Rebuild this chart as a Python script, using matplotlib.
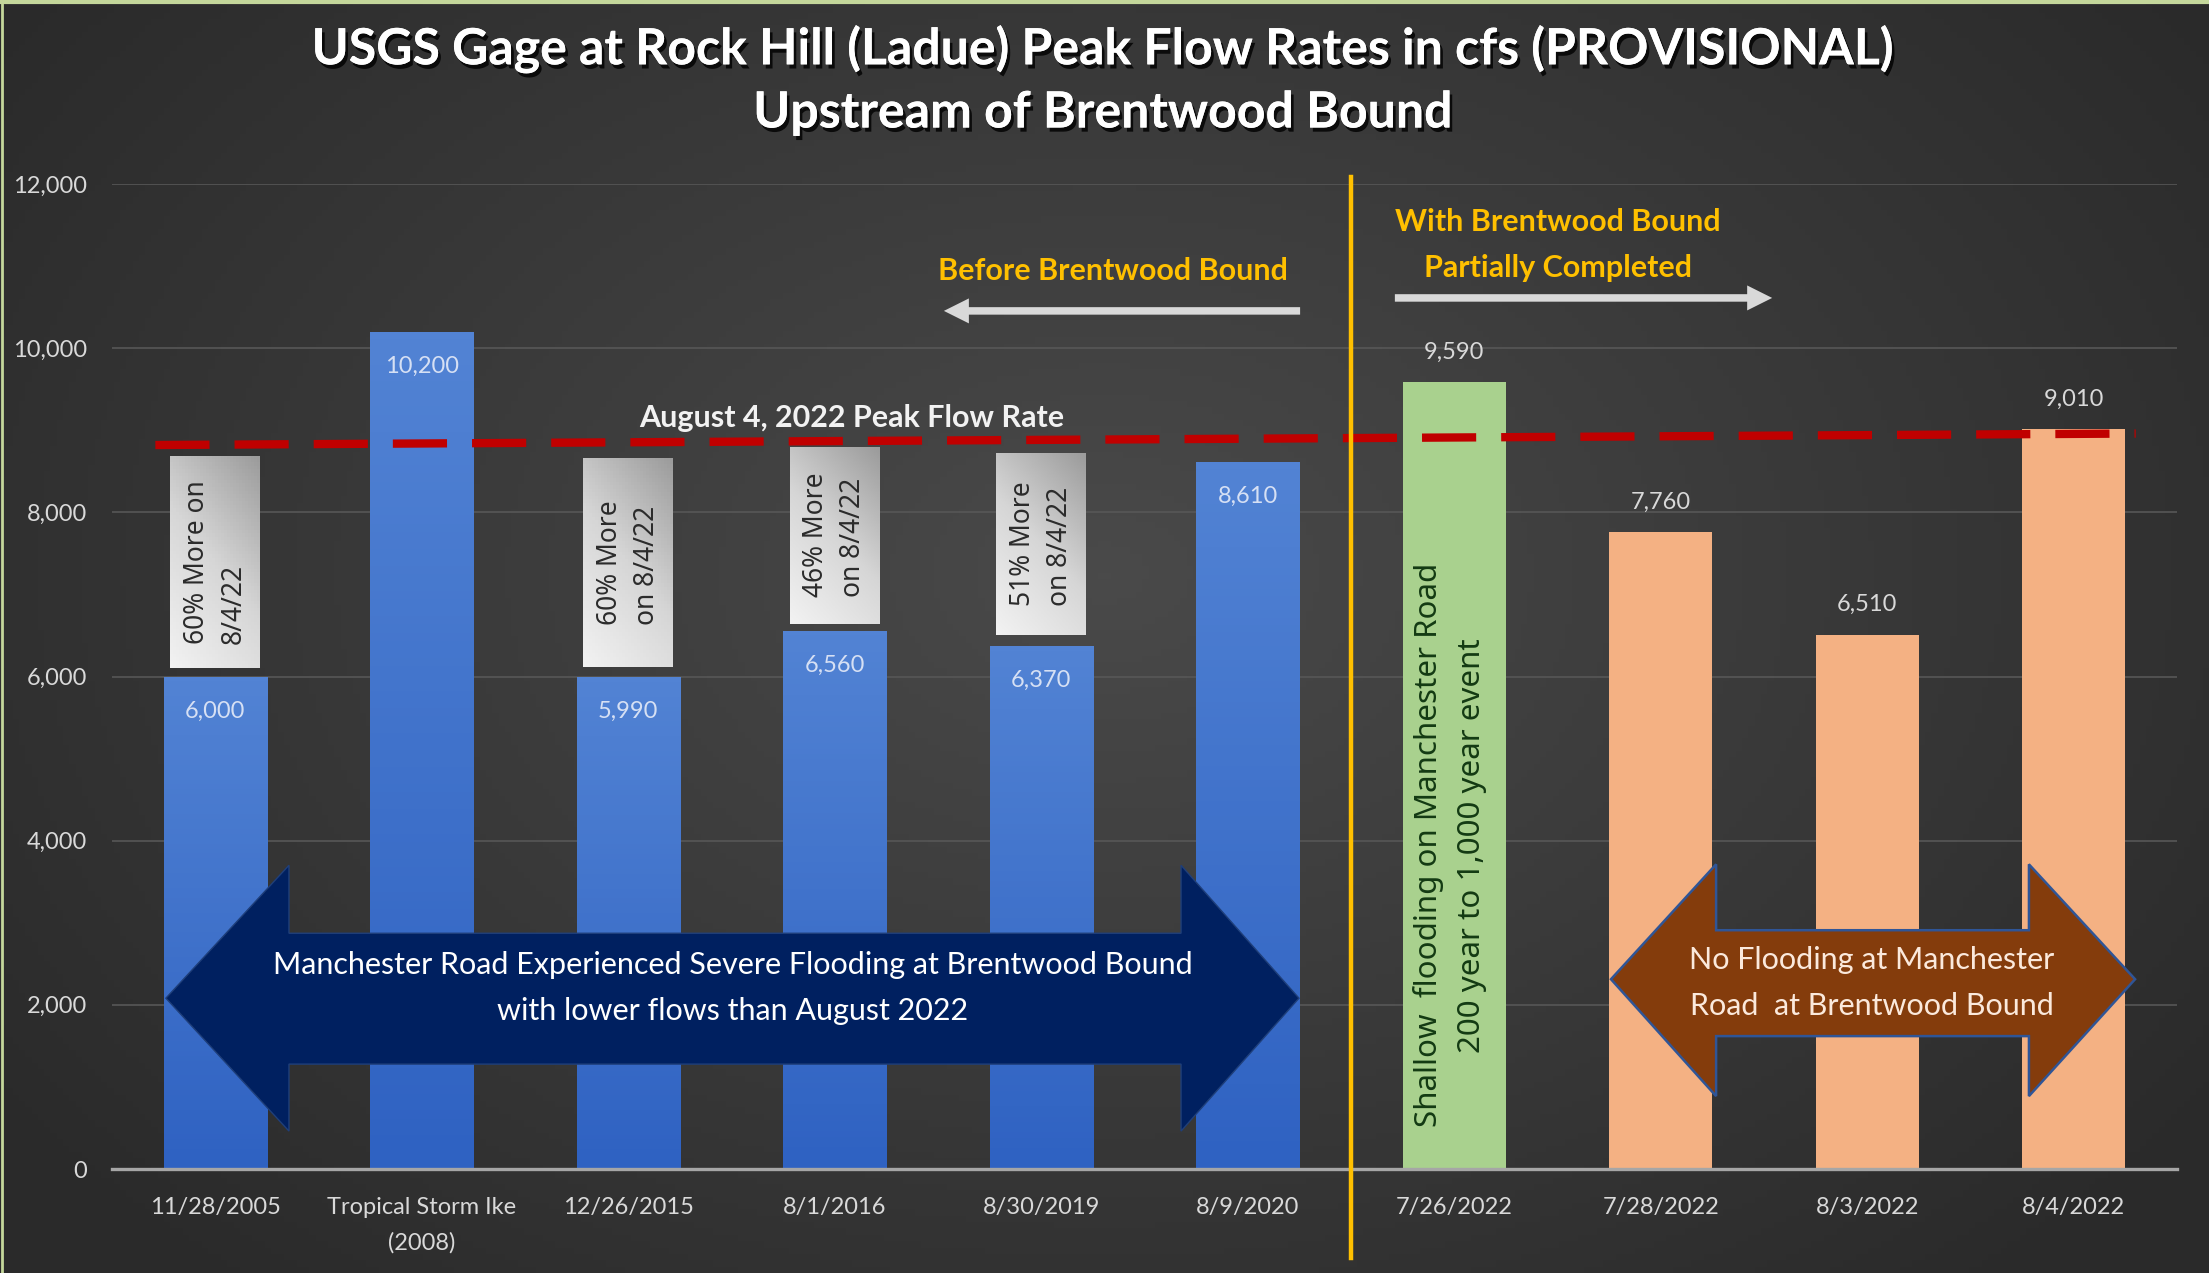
import numpy as np
import matplotlib
matplotlib.use("Agg")
import matplotlib.pyplot as plt
from matplotlib.patches import Polygon, Rectangle, FancyArrowPatch
from matplotlib.colors import LinearSegmentedColormap
from matplotlib.lines import Line2D
import matplotlib.patheffects as pe

plt.rcParams['font.family'] = ['Lato', 'DejaVu Sans']

categories = ['11/28/2005', 'Tropical Storm Ike\n(2008)', '12/26/2015', '8/1/2016',
              '8/30/2019', '8/9/2020', '7/26/2022', '7/28/2022', '8/3/2022', '8/4/2022']
flows = [6000, 10200, 5990, 6560, 6370, 8610, 9590, 7760, 6510, 9010]
period = ['before'] * 6 + ['event', 'after', 'after', 'after']

# grey callouts sitting above four of the older bars
note_idx = [0, 2, 3, 4]
note_text = ['60% More on\n8/4/22', '60% More\non 8/4/22', '46% More\non 8/4/22', '51% More\non 8/4/22']
note_low = [6100, 6110, 6645, 6510]
note_high = [8690, 8665, 8800, 8725]

# Aug 4 2022 peak line (hand drawn in the original, a bit tilted)
peak_x = [-0.29, 9.30]
peak_y = [8820, 8960]

yticks = [0, 2000, 4000, 6000, 8000, 10000, 12000]

W, H = 2209, 1273
fig = plt.figure(figsize=(W / 100, H / 100), dpi=100)

# dark radial background
bg = fig.add_axes([0, 0, 1, 1], zorder=-10)
yy, xx = np.mgrid[0:1:200j, 0:1:350j]
r = np.sqrt(((xx - 0.5) / 0.62) ** 2 + ((yy - 0.45) / 0.75) ** 2)
bg.imshow(np.clip(r, 0, 1), cmap=LinearSegmentedColormap.from_list('bg', ['#4a4a4a', '#2a2a2a']),
          aspect='auto', extent=[0, 1, 0, 1], vmin=0, vmax=1)
bg.axis('off')
fig.add_artist(Line2D([0, 1], [0.9985, 0.9985], color='#c4d79b', lw=3, transform=fig.transFigure))
fig.add_artist(Line2D([0.0008, 0.0008], [0, 1], color='#c4d79b', lw=2, transform=fig.transFigure))

ax = fig.add_axes([112 / W, 1 - 1169 / H, (2177 - 112) / W, (1169 - 184) / H])
ax.set_facecolor('none')
x = np.arange(len(categories))
colors = {'before': '#3f6fca', 'event': '#a9d18e', 'after': '#f4b183'}
bars = ax.bar(x, flows, width=0.5, color=[colors[p] for p in period], zorder=2)

blue_grad = LinearSegmentedColormap.from_list('bl', ['#2f62c2', '#5283d4'])
for b, p in zip(bars, period):
    if p == 'before':
        im = ax.imshow(np.linspace(0, 1, 100).reshape(-1, 1), cmap=blue_grad, origin='lower',
                       extent=[b.get_x(), b.get_x() + b.get_width(), 0, b.get_height()],
                       aspect='auto', zorder=2.1)
        im.set_clip_path(b)

ax.set_xlim(-0.5, 9.5)
ax.set_ylim(0, 12000)
ax.set_yticks(yticks)
ax.set_yticklabels([f'{v:,}' for v in yticks])
ax.set_xticks(x)
ax.set_xticklabels(categories)
for lab in ax.get_xticklabels():
    lab.set_linespacing(1.8)
ax.tick_params(axis='y', length=0, pad=18, labelsize=17, labelcolor='#d9d9d9')
ax.tick_params(axis='x', length=0, pad=20, labelsize=17, labelcolor='#d9d9d9')
ax.yaxis.grid(True, color='#575757', lw=1.2)
ax.set_axisbelow(True)
for s in ['top', 'left', 'right']:
    ax.spines[s].set_visible(False)
ax.spines['bottom'].set_color('#a6a6a6')
ax.spines['bottom'].set_linewidth(2.4)
ax.spines['bottom'].set_zorder(3)

# value labels
for xi, v, p in zip(x, flows, period):
    if p == 'before':
        ax.text(xi, v - 420, f'{v:,}', ha='center', va='center', fontsize=17, color='#d6e0f4', zorder=6)
    else:
        ax.text(xi, v + 365, f'{v:,}', ha='center', va='center', fontsize=17, color='#d9d9d9', zorder=6)

# grey callout boxes
box_grad = LinearSegmentedColormap.from_list('gr', ['#f2f2f2', '#d6d6d6', '#9c9c9c'])
gy, gx = np.mgrid[0:1:60j, 0:1:30j]
for i, t, lo, hi in zip(note_idx, note_text, note_low, note_high):
    rect = Rectangle((i - 0.2175, lo), 0.435, hi - lo, facecolor='#d0d0d0', edgecolor='none', zorder=3)
    ax.add_patch(rect)
    im = ax.imshow(0.35 * gx + 0.65 * gy, cmap=box_grad, origin='lower', aspect='auto',
                   extent=[i - 0.2175, i + 0.2175, lo, hi], zorder=3.1, vmin=0, vmax=1)
    im.set_clip_path(rect)
    ax.text(i, (lo + hi) / 2, t, rotation=90, ha='center', va='center', multialignment='left',
            fontsize=19, color='#2b2b2b', family=['Noto Sans', 'DejaVu Sans'], linespacing=1.42, zorder=4)

ax.set_xlim(-0.5, 9.5)
ax.set_ylim(0, 12000)

# peak line
ax.plot(peak_x, peak_y, color='#c00000', lw=6, dashes=(6.5, 3), zorder=5, solid_capstyle='butt')
ax.text(3.08, 9152, 'August 4, 2022 Peak Flow Rate', ha='center', va='center', fontsize=22,
        fontweight='bold', color='#f2f2f2', zorder=6)

# divider between before / after
ax.plot([5.5, 5.5], [-1083, 12085], color='#ffc000', lw=3.2, clip_on=False, zorder=7)

ax.text(4.347, 10941, 'Before Brentwood Bound', ha='center', va='center', fontsize=22,
        fontweight='bold', color='#ffc000')
ax.text(6.502, 11257, 'With Brentwood Bound\nPartially Completed', ha='center', va='center',
        fontsize=22, fontweight='bold', color='#ffc000', linespacing=1.8)
for a, b, yv in [(5.267, 3.515, 10454), (5.699, 7.553, 10612)]:
    ax.add_patch(FancyArrowPatch((a, yv), (b, yv), arrowstyle='simple,head_length=1,head_width=1,tail_width=0.3',
                                 mutation_scale=18, color='#d9d9d9', lw=0, zorder=6))

# big double arrows


def double_arrow(tl, bl, br, tr, yc, st, sb, ht, hb):
    return [(tl, yc), (bl, ht), (bl, st), (br, st), (br, ht), (tr, yc),
            (br, hb), (br, sb), (bl, sb), (bl, hb)]


ax.add_patch(Polygon(double_arrow(-0.239, 0.357, 4.677, 5.248, 2081, 2872, 1278, 3700, 462),
                     closed=True, facecolor='#002060', edgecolor='#1f3f7a', lw=1, zorder=5))
ax.text(2.507, 2203, 'Manchester Road Experienced Severe Flooding at Brentwood Bound\nwith lower flows than August 2022',
        ha='center', va='center', fontsize=22, color='#ffffff', linespacing=1.8, zorder=6)

ax.add_patch(Polygon(double_arrow(6.759, 7.268, 8.783, 9.297, 2312, 2909, 1619, 3712, 888),
                     closed=True, facecolor='#843c0c', edgecolor='#2f5597', lw=1.8, zorder=5))
ax.text(8.023, 2264, 'No Flooding at Manchester\nRoad  at Brentwood Bound', ha='center', va='center',
        fontsize=22, color='#fbe9dc', linespacing=1.8, zorder=6)

ax.text(5.98, 3943, 'Shallow  flooding on Manchester Road\n200 year to 1,000 year event', rotation=90,
        ha='center', va='center', multialignment='center', fontsize=22.5, color='#133a13',
        family=['Noto Sans', 'DejaVu Sans'], linespacing=1.55, zorder=6)

shadow = [pe.withSimplePatchShadow(offset=(2, -3), shadow_rgbFace='#000000', alpha=0.8), pe.Normal()]
fig.text(0.499, 1 - 49 / H, 'USGS Gage at Rock Hill (Ladue) Peak Flow Rates in cfs (PROVISIONAL)',
         ha='center', va='center', fontsize=36, fontweight='bold', color='white', path_effects=shadow)
fig.text(0.499, 1 - 113 / H, 'Upstream of Brentwood Bound', ha='center', va='center', fontsize=36,
         fontweight='bold', color='white', path_effects=shadow)

fig.savefig('out.png', dpi=100)
